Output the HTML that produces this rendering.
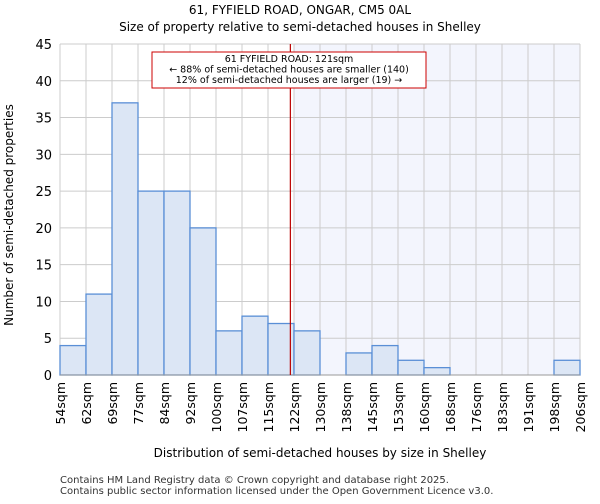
<!DOCTYPE html>
<html><head><meta charset="utf-8"><style>
body{margin:0;background:#fff;font-family:"DejaVu Sans","Liberation Sans",sans-serif;}
</style></head><body>
<svg id="chart" width="600" height="500" xmlns="http://www.w3.org/2000/svg" font-family="DejaVu Sans, Liberation Sans, sans-serif">
<text x="300" y="14" text-anchor="middle" font-size="12">61, FYFIELD ROAD, ONGAR, CM5 0AL</text>
<text x="300" y="31" text-anchor="middle" font-size="12">Size of property relative to semi-detached houses in Shelley</text>
<g id="plot"></g>
<text x="320" y="457" text-anchor="middle" font-size="12">Distribution of semi-detached houses by size in Shelley</text>
<text transform="translate(13,215) rotate(-90)" text-anchor="middle" font-size="12">Number of semi-detached properties</text>
<text x="60" y="483" font-size="10" fill="#333">Contains HM Land Registry data © Crown copyright and database right 2025.</text>
<text x="60" y="494" font-size="10" fill="#333">Contains public sector information licensed under the Open Government Licence v3.0.</text>
</svg>
<script>
const xTickLabels=["54sqm","62sqm","69sqm","77sqm","84sqm","92sqm","100sqm","107sqm","115sqm","122sqm","130sqm","138sqm","145sqm","153sqm","160sqm","168sqm","176sqm","183sqm","191sqm","198sqm","206sqm"];
const counts=[4,11,37,25,25,20,6,8,7,6,0,3,4,2,1,0,0,0,0,2];
const yTicks=[0,5,10,15,20,25,30,35,40,45];
const propertyBinPos=8.86;
const ns="http://www.w3.org/2000/svg";
const L=60,R=580,T=44,B=375,yMax=45;
const bw=(R-L)/counts.length;
const xs=i=>L+i*bw;
const ys=v=>B-(v/yMax)*(B-T);
const g=document.getElementById('plot');
function mk(t,a){const e=document.createElementNS(ns,t);for(const k in a)e.setAttribute(k,a[k]);g.appendChild(e);return e;}
const px=xs(propertyBinPos);
const shadeX=xs(Math.ceil(propertyBinPos));
let e=mk('rect',{x:shadeX,y:T,width:R-shadeX,height:B-T,fill:'#f3f5fd'});


yTicks.forEach(v=>{
 let l=mk('line',{x1:L,x2:R,y1:ys(v),y2:ys(v),stroke:'#ccc','stroke-width':1});
 
 
 let t=mk('text',{x:L-8,y:ys(v)+5,'text-anchor':'end','font-size':13});
 t.textContent=v;
 
 
});
xTickLabels.forEach((s,i)=>{
 let l=mk('line',{x1:xs(i),x2:xs(i),y1:T,y2:B,stroke:'#ccc','stroke-width':1});
 
 
 let t=mk('text',{transform:`translate(${xs(i)+5},382) rotate(-90)`,'text-anchor':'end','font-size':12.5});
 t.textContent=s;
 
 
});
counts.forEach((v,i)=>{
 if(v<=0)return;
 let r=mk('rect',{x:xs(i),y:ys(v),width:bw,height:B-ys(v),fill:'#dce6f5',stroke:'#5a8fd6','stroke-width':1.3});
 
 
});
e=mk('line',{x1:L,x2:R,y1:B,y2:B,stroke:'#999','stroke-width':1});


e=mk('line',{x1:px,x2:px,y1:T,y2:B,stroke:'#b00','stroke-width':1.2});


e=mk('rect',{x:152,y:52,width:274,height:36,fill:'#fff',stroke:'#c00','stroke-width':1});


["61 FYFIELD ROAD: 121sqm","← 88% of semi-detached houses are smaller (140)","12% of semi-detached houses are larger (19) →"].forEach((s,i)=>{
 let t=mk('text',{x:289,y:62+i*10.5,'text-anchor':'middle','font-size':9.5});
 t.textContent=s;
 
 
});
</script>
</body></html>
